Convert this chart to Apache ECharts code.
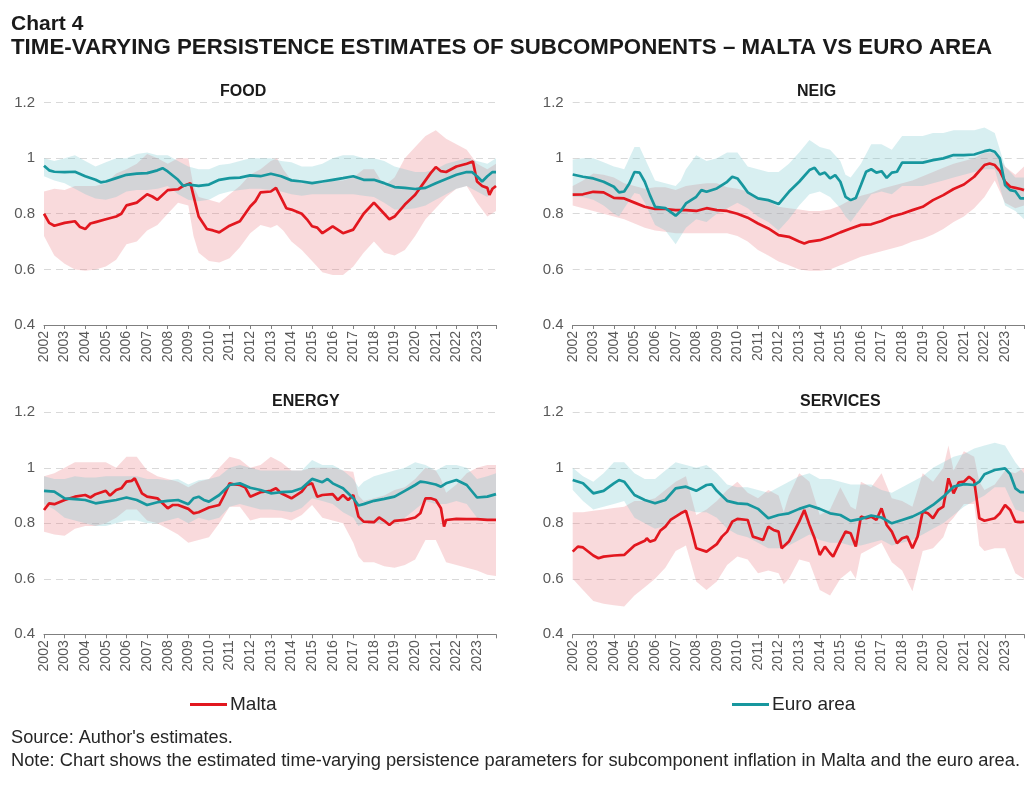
<!DOCTYPE html>
<html>
<head>
<meta charset="utf-8">
<script src="https://cdn.jsdelivr.net/npm/echarts@6/dist/echarts.min.js"></script>
<style>
html, body { margin: 0; padding: 0; background: #fff; }
#chart { width: 1035px; height: 785px; }
</style>
</head>
<body>
<div id="chart"></div>
<script>
// y ticks shared by all panels
var yTicks = [0.4, 0.6, 0.8, 1, 1.2];
var panelTitles = ['FOOD', 'NEIG', 'ENERGY', 'SERVICES'];

// lines: [year, estimate]
var foodMalta = [[2002,0.80],[2002.25,0.767],[2002.5,0.757],[2003,0.767],[2003.5,0.773],[2003.75,0.752],[2004,0.745],[2004.25,0.765],[2004.5,0.77],[2005,0.78],[2005.5,0.79],[2005.75,0.80],[2006,0.83],[2006.5,0.84],[2007,0.87],[2007.25,0.862],[2007.5,0.85],[2008,0.885],[2008.5,0.888],[2008.75,0.90],[2009.1,0.91],[2009.3,0.85],[2009.5,0.79],[2009.9,0.745],[2010.2,0.74],[2010.5,0.733],[2011,0.757],[2011.5,0.773],[2012,0.826],[2012.25,0.845],[2012.5,0.877],[2013,0.88],[2013.25,0.893],[2013.5,0.857],[2013.75,0.82],[2014,0.815],[2014.5,0.80],[2014.75,0.78],[2015,0.755],[2015.25,0.75],[2015.5,0.73],[2016,0.755],[2016.5,0.73],[2017,0.743],[2017.5,0.80],[2018,0.84],[2018.5,0.80],[2018.75,0.78],[2019,0.79],[2019.5,0.833],[2020,0.868],[2020.5,0.92],[2020.75,0.946],[2021,0.968],[2021.25,0.953],[2021.5,0.95],[2021.75,0.96],[2022,0.97],[2022.5,0.98],[2022.8,0.988],[2023,0.916],[2023.25,0.90],[2023.5,0.893],[2023.6,0.868],[2023.75,0.89],[2023.92,0.90]];
var foodEuro = [[2002,0.973],[2002.25,0.956],[2002.5,0.951],[2003,0.95],[2003.5,0.951],[2004,0.935],[2004.5,0.922],[2004.75,0.913],[2005,0.916],[2005.5,0.928],[2006,0.94],[2006.5,0.944],[2007,0.946],[2007.5,0.956],[2007.75,0.964],[2008,0.952],[2008.5,0.922],[2008.75,0.90],[2009,0.905],[2009.5,0.90],[2010,0.905],[2010.5,0.922],[2011,0.928],[2011.5,0.93],[2012,0.938],[2012.5,0.935],[2013,0.944],[2013.5,0.935],[2014,0.92],[2014.5,0.916],[2015,0.91],[2015.5,0.916],[2016,0.922],[2016.5,0.928],[2017,0.935],[2017.5,0.922],[2018,0.922],[2018.5,0.91],[2019,0.896],[2019.5,0.893],[2020,0.889],[2020.5,0.893],[2021,0.91],[2021.5,0.925],[2022,0.94],[2022.5,0.95],[2022.75,0.95],[2023,0.935],[2023.25,0.916],[2023.5,0.935],[2023.75,0.95],[2023.92,0.95]];
var neigMalta = [[2002,0.869],[2002.5,0.87],[2003,0.879],[2003.5,0.877],[2004,0.857],[2004.5,0.855],[2005,0.84],[2005.5,0.825],[2006,0.817],[2006.5,0.817],[2007,0.813],[2007.5,0.813],[2008,0.81],[2008.5,0.82],[2009,0.813],[2009.5,0.81],[2010,0.80],[2010.5,0.786],[2011,0.765],[2011.5,0.747],[2012,0.723],[2012.5,0.717],[2013,0.70],[2013.25,0.693],[2013.5,0.70],[2014,0.705],[2014.5,0.717],[2015,0.733],[2015.5,0.747],[2016,0.76],[2016.5,0.762],[2017,0.774],[2017.5,0.79],[2018,0.80],[2018.5,0.813],[2019,0.825],[2019.5,0.849],[2020,0.867],[2020.5,0.889],[2021,0.905],[2021.5,0.933],[2022,0.975],[2022.25,0.981],[2022.5,0.975],[2022.75,0.953],[2023,0.915],[2023.25,0.897],[2023.5,0.893],[2023.75,0.889],[2023.92,0.885]];
var neigEuro = [[2002,0.941],[2002.5,0.933],[2003,0.927],[2003.5,0.915],[2004,0.897],[2004.25,0.877],[2004.5,0.88],[2004.75,0.909],[2005,0.95],[2005.25,0.948],[2005.5,0.915],[2005.75,0.867],[2006,0.825],[2006.5,0.82],[2007,0.793],[2007.25,0.81],[2007.5,0.837],[2008,0.861],[2008.25,0.885],[2008.5,0.879],[2009,0.891],[2009.5,0.915],[2009.75,0.933],[2010,0.927],[2010.25,0.903],[2010.5,0.877],[2011,0.855],[2011.5,0.849],[2012,0.835],[2012.5,0.879],[2013,0.915],[2013.5,0.957],[2013.75,0.965],[2014,0.941],[2014.25,0.948],[2014.5,0.927],[2014.75,0.939],[2015,0.915],[2015.25,0.861],[2015.5,0.849],[2015.75,0.857],[2016,0.903],[2016.25,0.951],[2016.5,0.96],[2016.75,0.948],[2017,0.953],[2017.25,0.929],[2017.5,0.948],[2017.75,0.951],[2018,0.984],[2018.5,0.984],[2019,0.984],[2019.5,0.993],[2020,0.999],[2020.5,1.011],[2021,1.011],[2021.5,1.013],[2022,1.025],[2022.25,1.029],[2022.5,1.023],[2022.75,0.999],[2023,0.903],[2023.25,0.885],[2023.5,0.881],[2023.75,0.855],[2023.92,0.855]];
var energyMalta = [[2002,0.848],[2002.25,0.872],[2002.5,0.869],[2003,0.884],[2003.5,0.896],[2004,0.902],[2004.25,0.893],[2004.5,0.905],[2005,0.917],[2005.2,0.90],[2005.5,0.92],[2005.75,0.926],[2006,0.95],[2006.25,0.953],[2006.4,0.962],[2006.75,0.908],[2007,0.896],[2007.5,0.89],[2007.75,0.872],[2008,0.854],[2008.25,0.866],[2008.5,0.866],[2009,0.852],[2009.25,0.836],[2009.5,0.84],[2010,0.857],[2010.5,0.866],[2010.75,0.902],[2011,0.944],[2011.25,0.94],[2011.5,0.938],[2011.75,0.93],[2012,0.896],[2012.5,0.912],[2013,0.917],[2013.25,0.926],[2013.5,0.908],[2014,0.89],[2014.5,0.914],[2014.75,0.938],[2015,0.944],[2015.25,0.896],[2015.5,0.902],[2016,0.905],[2016.25,0.884],[2016.5,0.902],[2016.75,0.884],[2017,0.902],[2017.25,0.824],[2017.5,0.806],[2018,0.804],[2018.25,0.821],[2018.5,0.809],[2018.75,0.794],[2019,0.809],[2019.5,0.812],[2020,0.821],[2020.25,0.836],[2020.5,0.89],[2020.75,0.89],[2021,0.884],[2021.25,0.854],[2021.4,0.788],[2021.5,0.812],[2022,0.816],[2022.5,0.815],[2023,0.815],[2023.5,0.812],[2023.92,0.812]];
var energyEuro = [[2002,0.917],[2002.5,0.914],[2003,0.89],[2003.5,0.887],[2004,0.884],[2004.5,0.872],[2005,0.878],[2005.5,0.884],[2006,0.893],[2006.5,0.884],[2007,0.866],[2007.5,0.876],[2008,0.881],[2008.5,0.884],[2009,0.869],[2009.25,0.89],[2009.5,0.896],[2009.75,0.884],[2010,0.878],[2010.5,0.902],[2011,0.938],[2011.5,0.944],[2012,0.928],[2012.5,0.92],[2013,0.908],[2013.5,0.912],[2014,0.914],[2014.5,0.926],[2015,0.96],[2015.5,0.948],[2015.75,0.96],[2016,0.944],[2016.5,0.926],[2017,0.89],[2017.25,0.864],[2017.5,0.869],[2018,0.881],[2018.5,0.888],[2019,0.896],[2019.5,0.917],[2020,0.938],[2020.25,0.95],[2020.5,0.948],[2021,0.94],[2021.25,0.932],[2021.5,0.944],[2022,0.956],[2022.5,0.938],[2023,0.893],[2023.5,0.896],[2023.92,0.905]];
var servicesMalta = [[2002,0.698],[2002.25,0.716],[2002.5,0.713],[2003,0.684],[2003.25,0.674],[2003.5,0.68],[2004,0.684],[2004.5,0.686],[2005,0.72],[2005.5,0.737],[2005.6,0.746],[2005.75,0.734],[2006,0.74],[2006.25,0.773],[2006.5,0.788],[2006.75,0.812],[2007,0.824],[2007.25,0.836],[2007.5,0.845],[2007.75,0.782],[2008,0.71],[2008.5,0.698],[2009,0.725],[2009.25,0.752],[2009.5,0.77],[2009.75,0.806],[2010,0.816],[2010.5,0.812],[2010.75,0.752],[2011,0.746],[2011.25,0.74],[2011.5,0.788],[2011.75,0.776],[2012,0.77],[2012.15,0.71],[2012.5,0.734],[2012.75,0.77],[2013,0.806],[2013.25,0.848],[2013.5,0.794],[2013.75,0.746],[2014,0.686],[2014.25,0.716],[2014.5,0.692],[2014.65,0.68],[2015,0.734],[2015.25,0.77],[2015.5,0.764],[2015.75,0.716],[2016,0.824],[2016.25,0.818],[2016.5,0.824],[2016.75,0.812],[2017,0.854],[2017.25,0.794],[2017.5,0.77],[2017.75,0.728],[2018,0.746],[2018.25,0.752],[2018.5,0.71],[2018.75,0.752],[2019,0.842],[2019.25,0.836],[2019.5,0.818],[2019.75,0.848],[2020,0.86],[2020.25,0.962],[2020.5,0.908],[2020.75,0.948],[2021,0.95],[2021.25,0.968],[2021.5,0.953],[2021.75,0.818],[2022,0.809],[2022.5,0.818],[2022.75,0.836],[2023,0.866],[2023.25,0.848],[2023.5,0.806],[2023.75,0.804],[2023.92,0.806]];
var servicesEuro = [[2002,0.956],[2002.5,0.944],[2003,0.908],[2003.5,0.917],[2004,0.944],[2004.25,0.956],[2004.5,0.95],[2005,0.902],[2005.5,0.884],[2006,0.872],[2006.5,0.884],[2007,0.926],[2007.5,0.932],[2008,0.917],[2008.5,0.938],[2008.75,0.94],[2009,0.917],[2009.5,0.881],[2010,0.872],[2010.5,0.869],[2011,0.852],[2011.5,0.818],[2012,0.83],[2012.5,0.836],[2013,0.852],[2013.5,0.864],[2014,0.852],[2014.5,0.836],[2015,0.83],[2015.5,0.809],[2016,0.816],[2016.5,0.828],[2017,0.821],[2017.5,0.80],[2018,0.812],[2018.5,0.824],[2019,0.842],[2019.5,0.866],[2020,0.896],[2020.5,0.932],[2021,0.941],[2021.5,0.938],[2021.75,0.95],[2022,0.977],[2022.5,0.992],[2023,0.998],[2023.25,0.977],[2023.5,0.926],[2023.75,0.912],[2023.92,0.912]];

// bands: [year, lower, upper]
var foodMaltaBand = [[2002,0.72,0.88],[2002.5,0.65,0.89],[2003,0.62,0.885],[2003.5,0.60,0.90],[2004,0.595,0.90],[2004.5,0.60,0.90],[2005,0.61,0.91],[2005.5,0.635,0.945],[2006,0.69,0.96],[2006.5,0.70,0.98],[2007,0.74,1.015],[2007.5,0.76,1.0],[2008,0.80,0.98],[2008.5,0.84,1.0],[2009,0.83,1.0],[2009.25,0.72,0.90],[2009.5,0.66,0.86],[2010,0.63,0.85],[2010.5,0.625,0.84],[2011,0.64,0.87],[2011.5,0.68,0.90],[2012,0.73,0.94],[2012.5,0.76,0.96],[2013,0.75,0.99],[2013.3,0.76,1.0],[2013.6,0.74,0.96],[2014,0.70,0.92],[2014.5,0.67,0.91],[2015,0.63,0.91],[2015.5,0.59,0.91],[2016,0.58,0.92],[2016.5,0.58,0.92],[2017,0.61,0.93],[2017.5,0.66,0.96],[2018,0.70,0.96],[2018.5,0.66,0.90],[2019,0.65,0.93],[2019.5,0.67,1.0],[2020,0.72,1.04],[2020.5,0.78,1.08],[2021,0.82,1.10],[2021.5,0.86,1.07],[2022,0.89,1.05],[2022.5,0.90,1.03],[2023,0.84,0.98],[2023.5,0.79,0.96],[2023.92,0.81,0.98]];
var foodEuroBand = [[2002,0.935,1.0],[2002.5,0.92,0.99],[2003,0.91,1.0],[2003.5,0.89,1.01],[2004,0.87,0.99],[2004.5,0.855,0.97],[2005,0.85,0.985],[2005.5,0.86,1.0],[2006,0.88,1.0],[2006.5,0.885,1.015],[2007,0.885,1.02],[2007.5,0.89,1.01],[2008,0.90,1.01],[2008.5,0.87,0.99],[2009,0.85,0.97],[2009.5,0.845,0.96],[2010,0.85,0.96],[2010.5,0.87,0.975],[2011,0.88,0.98],[2011.5,0.885,0.99],[2012,0.89,1.0],[2012.5,0.89,1.0],[2013,0.885,1.0],[2013.5,0.88,0.99],[2014,0.87,0.985],[2014.5,0.865,0.97],[2015,0.87,0.97],[2015.5,0.87,0.98],[2016,0.87,1.0],[2016.5,0.87,1.01],[2017,0.87,1.01],[2017.5,0.865,1.0],[2018,0.86,1.0],[2018.5,0.84,0.99],[2019,0.815,0.97],[2019.5,0.815,0.96],[2020,0.82,0.95],[2020.5,0.83,0.95],[2021,0.85,0.96],[2021.5,0.87,0.98],[2022,0.89,0.99],[2022.5,0.90,1.0],[2023,0.88,0.99],[2023.5,0.86,0.98],[2023.92,0.90,1.0]];
var neigMaltaBand = [[2002,0.83,0.90],[2002.5,0.82,0.92],[2003,0.81,0.945],[2003.5,0.80,0.94],[2004,0.79,0.93],[2004.5,0.78,0.91],[2005,0.765,0.90],[2005.5,0.75,0.89],[2006,0.74,0.895],[2006.5,0.735,0.895],[2007,0.73,0.885],[2007.5,0.73,0.90],[2008,0.73,0.905],[2008.5,0.73,0.91],[2009,0.73,0.91],[2009.5,0.73,0.895],[2010,0.72,0.89],[2010.5,0.70,0.88],[2011,0.67,0.86],[2011.5,0.65,0.845],[2012,0.628,0.825],[2012.5,0.615,0.82],[2013,0.60,0.815],[2013.5,0.595,0.81],[2014,0.595,0.81],[2014.5,0.60,0.815],[2015,0.615,0.83],[2015.5,0.63,0.85],[2016,0.645,0.865],[2016.5,0.655,0.875],[2017,0.665,0.89],[2017.5,0.675,0.90],[2018,0.685,0.91],[2018.5,0.70,0.92],[2019,0.71,0.935],[2019.5,0.725,0.95],[2020,0.745,0.965],[2020.5,0.77,0.98],[2021,0.79,0.99],[2021.5,0.82,1.0],[2022,0.86,1.02],[2022.5,0.92,1.02],[2023,0.84,0.97],[2023.5,0.82,0.94],[2023.92,0.83,0.97]];
var neigEuroBand = [[2002,0.86,0.995],[2002.5,0.86,1.0],[2003,0.85,1.0],[2003.5,0.83,0.985],[2004,0.80,0.97],[2004.25,0.79,0.965],[2004.5,0.82,0.96],[2005,0.875,1.04],[2005.25,0.87,1.04],[2005.5,0.84,1.0],[2006,0.76,0.92],[2006.5,0.74,0.91],[2007,0.69,0.90],[2007.25,0.72,0.92],[2007.5,0.75,0.96],[2008,0.78,1.01],[2008.5,0.77,0.99],[2009,0.80,1.0],[2009.5,0.82,1.02],[2010,0.84,1.02],[2010.5,0.82,0.97],[2011,0.79,0.96],[2011.5,0.77,0.95],[2012,0.74,0.95],[2012.5,0.78,0.98],[2013,0.83,1.02],[2013.5,0.87,1.065],[2014,0.88,1.04],[2014.5,0.86,1.03],[2015,0.82,0.99],[2015.25,0.79,0.94],[2015.5,0.77,0.93],[2016,0.82,0.98],[2016.5,0.87,1.05],[2017,0.88,1.05],[2017.5,0.87,1.03],[2018,0.90,1.08],[2018.5,0.90,1.08],[2019,0.90,1.08],[2019.5,0.91,1.09],[2020,0.92,1.09],[2020.5,0.93,1.10],[2021,0.94,1.10],[2021.5,0.95,1.10],[2022,0.96,1.11],[2022.5,0.96,1.09],[2023,0.83,0.97],[2023.5,0.81,0.93],[2023.92,0.78,0.93]];
var energyMaltaBand = [[2002,0.77,0.97],[2002.5,0.76,0.98],[2003,0.755,1.0],[2003.5,0.78,1.02],[2004,0.79,1.02],[2004.5,0.79,1.02],[2005,0.80,1.02],[2005.5,0.82,1.0],[2006,0.85,1.04],[2006.5,0.85,1.04],[2007,0.81,0.99],[2007.5,0.80,0.97],[2008,0.78,0.96],[2008.5,0.76,0.95],[2009,0.73,0.93],[2009.5,0.74,0.95],[2010,0.75,0.96],[2010.5,0.80,1.0],[2011,0.86,1.04],[2011.5,0.86,1.03],[2012,0.81,1.0],[2012.5,0.82,1.01],[2013,0.82,1.04],[2013.5,0.82,1.02],[2014,0.81,0.99],[2014.5,0.83,0.99],[2015,0.866,1.0],[2015.5,0.82,1.0],[2016,0.81,1.0],[2016.5,0.80,0.99],[2017,0.73,0.986],[2017.25,0.68,0.90],[2017.5,0.66,0.88],[2018,0.66,0.89],[2018.5,0.645,0.90],[2019,0.64,0.92],[2019.5,0.65,0.93],[2020,0.67,0.96],[2020.5,0.74,1.0],[2021,0.74,0.99],[2021.25,0.70,0.96],[2021.5,0.66,0.91],[2022,0.65,0.94],[2022.5,0.64,0.98],[2023,0.63,1.0],[2023.5,0.615,1.01],[2023.92,0.61,1.01]];
var energyEuroBand = [[2002,0.87,0.97],[2002.5,0.85,0.96],[2003,0.82,0.96],[2003.5,0.81,0.97],[2004,0.80,0.965],[2004.5,0.79,0.965],[2005,0.79,0.97],[2005.5,0.80,0.97],[2006,0.81,0.97],[2006.5,0.81,0.97],[2007,0.80,0.96],[2007.5,0.80,0.96],[2008,0.81,0.955],[2008.5,0.82,0.96],[2009,0.80,0.94],[2009.5,0.82,0.955],[2010,0.81,0.96],[2010.5,0.82,0.97],[2011,0.86,1.0],[2011.5,0.87,1.01],[2012,0.86,1.0],[2012.5,0.85,0.99],[2013,0.85,0.99],[2013.5,0.845,0.99],[2014,0.84,0.99],[2014.5,0.855,0.99],[2015,0.89,1.028],[2015.5,0.88,1.01],[2016,0.87,1.01],[2016.5,0.84,0.99],[2017,0.82,0.96],[2017.25,0.79,0.93],[2017.5,0.80,0.95],[2018,0.80,0.97],[2018.5,0.80,0.98],[2019,0.80,0.99],[2019.5,0.82,1.0],[2020,0.85,1.02],[2020.5,0.88,1.01],[2021,0.87,0.99],[2021.5,0.87,1.01],[2022,0.88,1.01],[2022.5,0.87,1.0],[2023,0.82,0.96],[2023.5,0.81,0.97],[2023.92,0.82,0.98]];
var servicesMaltaBand = [[2002,0.60,0.84],[2002.5,0.56,0.84],[2003,0.52,0.845],[2003.5,0.51,0.85],[2004,0.505,0.855],[2004.5,0.50,0.86],[2005,0.54,0.88],[2005.5,0.57,0.88],[2006,0.60,0.89],[2006.5,0.64,0.92],[2007,0.70,0.95],[2007.5,0.72,0.97],[2008,0.59,0.83],[2008.5,0.56,0.85],[2009,0.59,0.88],[2009.5,0.65,0.92],[2010,0.68,0.95],[2010.5,0.67,0.91],[2011,0.62,0.89],[2011.5,0.63,0.92],[2012,0.62,0.90],[2012.25,0.58,0.84],[2012.5,0.60,0.90],[2013,0.67,0.98],[2013.5,0.66,0.95],[2014,0.56,0.83],[2014.5,0.54,0.85],[2015,0.60,0.93],[2015.5,0.63,0.86],[2015.75,0.60,0.85],[2016,0.69,0.95],[2016.5,0.71,0.93],[2017,0.73,0.98],[2017.5,0.66,0.89],[2018,0.63,0.88],[2018.5,0.555,0.86],[2019,0.70,0.98],[2019.5,0.71,0.95],[2020,0.75,1.0],[2020.25,0.80,1.08],[2020.5,0.82,0.99],[2021,0.87,1.06],[2021.5,0.87,1.04],[2021.75,0.72,0.95],[2022,0.70,0.92],[2022.5,0.71,0.94],[2023,0.71,0.99],[2023.5,0.62,0.98],[2023.92,0.60,1.0]];
var servicesEuroBand = [[2002,0.92,1.0],[2002.5,0.88,0.97],[2003,0.85,0.95],[2003.5,0.86,0.98],[2004,0.87,1.02],[2004.5,0.88,1.02],[2005,0.82,0.98],[2005.5,0.80,0.96],[2006,0.78,0.96],[2006.5,0.79,0.99],[2007,0.83,1.02],[2007.5,0.85,1.01],[2008,0.84,1.0],[2008.5,0.84,1.01],[2009,0.82,0.98],[2009.5,0.78,0.94],[2010,0.76,0.93],[2010.5,0.75,0.93],[2011,0.73,0.92],[2011.5,0.71,0.91],[2012,0.71,0.93],[2012.5,0.72,0.95],[2013,0.74,0.97],[2013.5,0.76,0.98],[2014,0.74,0.96],[2014.5,0.73,0.96],[2015,0.73,0.95],[2015.5,0.72,0.94],[2016,0.72,0.94],[2016.5,0.73,0.94],[2017,0.74,0.92],[2017.5,0.72,0.91],[2018,0.73,0.93],[2018.5,0.74,0.95],[2019,0.76,0.97],[2019.5,0.78,1.0],[2020,0.80,1.02],[2020.5,0.83,1.04],[2021,0.86,1.05],[2021.5,0.88,1.07],[2022,0.90,1.08],[2022.5,0.93,1.09],[2023,0.93,1.08],[2023.5,0.85,1.02],[2023.92,0.84,0.98]];

var maltaLines = [foodMalta, neigMalta, energyMalta, servicesMalta];
var euroLines = [foodEuro, neigEuro, energyEuro, servicesEuro];
var maltaBands = [foodMaltaBand, neigMaltaBand, energyMaltaBand, servicesMaltaBand];
var euroBands = [foodEuroBand, neigEuroBand, energyEuroBand, servicesEuroBand];

var RED = '#e2171f';
var TEAL = '#17979e';
var FONT = '"Liberation Sans", Arial, sans-serif';

var chart = echarts.init(document.getElementById('chart'));

var grids = [
    {left: 44, top: 102.5, width: 452, height: 222.5},
    {left: 572.7, top: 102.5, width: 451.3, height: 222.5},
    {left: 44, top: 412.3, width: 452, height: 222},
    {left: 572.7, top: 412.3, width: 451.3, height: 222}
];
var titleX = [220, 797, 272, 800];

// band drawn as a filled polygon between lower and upper bounds
function bandSeries(band, color, idx) {
    return {
        type: 'custom',
        xAxisIndex: idx,
        yAxisIndex: idx,
        silent: true,
        z: 1,
        data: [[band[0][0], band[0][1]]],
        renderItem: function (params, api) {
            var pts = [];
            for (var i = 0; i < band.length; i++) {
                pts.push(api.coord([band[i][0], band[i][2]]));
            }
            for (var j = band.length - 1; j >= 0; j--) {
                pts.push(api.coord([band[j][0], band[j][1]]));
            }
            return {type: 'polygon', shape: {points: pts}, style: {fill: color}};
        }
    };
}

function lineSeries(name, data, color, idx) {
    return {
        name: name,
        type: 'line',
        xAxisIndex: idx,
        yAxisIndex: idx,
        data: data,
        symbol: 'none',
        z: 3,
        lineStyle: {color: color, width: 2.7},
        itemStyle: {color: color}
    };
}

var xAxes = [], yAxes = [], series = [], graphics = [];
for (var k = 0; k < 4; k++) {
    xAxes.push({
        gridIndex: k,
        type: 'value',
        min: 2002,
        max: 2023.92,
        interval: 1,
        splitLine: {show: false},
        axisLine: {lineStyle: {color: '#7f7f7f', width: 1}},
        axisTick: {show: true, length: 4, lineStyle: {color: '#7f7f7f'}},
        axisLabel: {
            rotate: 90,
            fontSize: 14,
            color: '#595959',
            fontFamily: FONT,
            margin: 6,
            formatter: function (v) { return v % 1 === 0 ? String(v) : ''; }
        }
    });
    yAxes.push({
        gridIndex: k,
        type: 'value',
        min: yTicks[0],
        max: yTicks[yTicks.length - 1],
        interval: 0.2,
        axisLine: {show: false},
        axisTick: {show: false},
        splitLine: {lineStyle: {color: '#d9d9d9', type: [7, 5], width: 1}},
        axisLabel: {
            fontSize: 15,
            color: '#595959',
            fontFamily: FONT,
            margin: 9,
            formatter: function (v) { return String(Math.round(v * 10) / 10); }
        }
    });
    series.push(bandSeries(maltaBands[k], 'rgba(232,120,124,0.27)', k));
    series.push(bandSeries(euroBands[k], 'rgba(110,196,204,0.27)', k));
    series.push(lineSeries('Malta', maltaLines[k], RED, k));
    series.push(lineSeries('Euro area', euroLines[k], TEAL, k));
    graphics.push({
        type: 'text',
        left: titleX[k],
        top: grids[k].top - 19,
        style: {
            text: panelTitles[k],
            font: 'bold 16px ' + FONT,
            fill: '#1a1a1a',
            textAlign: 'center'
        }
    });
}

graphics.push({
    type: 'text', left: 11, top: 14,
    style: {text: 'Chart 4', font: 'bold 21px ' + FONT, fill: '#1a1a1a'}
});
graphics.push({
    type: 'text', left: 11, top: 37,
    style: {text: 'TIME-VARYING PERSISTENCE ESTIMATES OF SUBCOMPONENTS \u2013 MALTA VS EURO AREA', font: 'bold 22.3px ' + FONT, fill: '#1a1a1a'}
});
graphics.push({
    type: 'text', left: 11, top: 729,
    style: {text: "Source: Author's estimates.", font: '18.2px ' + FONT, fill: '#262626'}
});
graphics.push({
    type: 'text', left: 11, top: 752,
    style: {text: 'Note: Chart shows the estimated time-varying persistence parameters for subcomponent inflation in Malta and the euro area.', font: '18.3px ' + FONT, fill: '#262626'}
});

var legendBase = {
    orient: 'horizontal',
    icon: 'rect',
    itemWidth: 37,
    itemHeight: 3,
    top: 695,
    padding: 0,
    selectedMode: false,
    textStyle: {fontSize: 19, color: '#262626', fontFamily: FONT, padding: [0, 0, 0, -2]}
};

var option = {
    animation: false,
    backgroundColor: '#ffffff',
    grid: grids,
    xAxis: xAxes,
    yAxis: yAxes,
    series: series,
    legend: [
        Object.assign({}, legendBase, {left: 190, data: ['Malta']}),
        Object.assign({}, legendBase, {left: 732, data: ['Euro area']})
    ],
    graphic: graphics
};

chart.setOption(option);

window.onresize = function () {
    chart.resize();
};
</script>
</body>
</html>
